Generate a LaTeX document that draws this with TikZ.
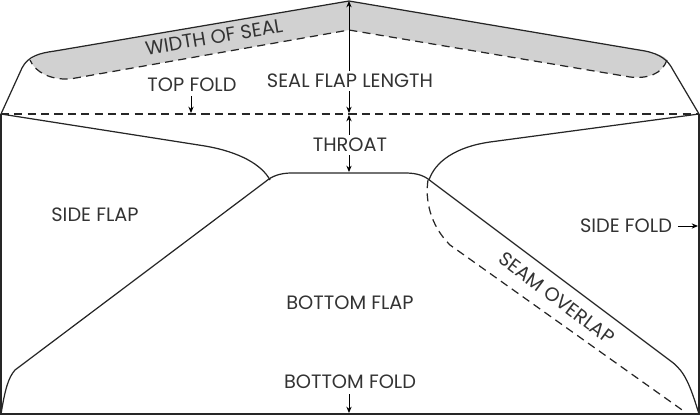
\documentclass[tikz,border=0pt]{standalone}
\usepackage{fontspec}
\setmainfont{Poppins}
\usetikzlibrary{arrows.meta}
\begin{document}
\begin{tikzpicture}[x=0.01cm,y=-0.01cm,
  ln/.style={line width=0.35pt,black!85},
  dsh/.style={line width=0.35pt,black!85,dash pattern=on 2.3pt off 1.5pt},
  lab/.style={font=\fontsize{5.5}{6}\selectfont,text=black!80,inner sep=0pt},
  tip/.tip={Stealth[length=1.8pt,width=1.5pt]},
  arr/.style={-tip,line width=0.25pt}]
\useasboundingbox (0,0) rectangle (700,415);
% seal gray
\fill[black!18] (30,60) .. controls (38,54) and (45,53) .. (55,51) -- (349,1) -- (645,51) .. controls (660,54) and (665,57) .. (667,60)
  .. controls (662,74) and (648,79) .. (630,77) -- (349,30) -- (70,79) .. controls (50,80) and (35,72) .. (30,60) -- cycle;
\draw[dsh] (667,60) .. controls (662,74) and (648,79) .. (630,77) -- (349,30) -- (70,79) .. controls (50,80) and (35,72) .. (30,60);
% top flap outline
\draw[ln] (1,114) -- (22,68) .. controls (28,56) and (40,53) .. (55,51) -- (349,1) -- (645,51) .. controls (660,54) and (668,60) .. (673,70) -- (699,114);
% body
\draw[ln] (1,114) -- (1,414) -- (699,414) -- (699,114);
\draw[dsh] (1,114) -- (699,114);
% throat and flaps
\draw[ln] (1,114) -- (205,146) .. controls (240,152) and (262,165) .. (270,180);
\draw[ln] (699,114) -- (490,142) .. controls (455,147) and (435,162) .. (429,180);
\draw[ln] (15,370) -- (265,182) .. controls (272,176) and (280,173) .. (292,173) -- (405,173) .. controls (418,173) and (425,176) .. (432,182) -- (672,362) .. controls (685,372) and (690,385) .. (699,414);
\draw[ln] (15,370) .. controls (8,378) and (5,390) .. (1,414);
\draw[dsh] (428,180) .. controls (425,200) and (430,225) .. (450,245) -- (685,412);
% dimension arrows
\coordinate (t0) at (349,1); \coordinate (t1) at (349,113); \coordinate (t2) at (349,115); \coordinate (t3) at (349,172);
\draw[arr,tip-tip] (t0) -- (t1);
\draw[arr,tip-tip] (t2) -- (t3);
% labels
\node[lab,rotate=9.5] (ws) at (214,37) {WIDTH OF SEAL};
\node[lab] (tf) at (192,85) {TOP FOLD};
\node[lab,fill=white,inner sep=1pt] (sfl) at (350,81) {SEAL FLAP LENGTH};
\node[lab,fill=white,inner sep=1pt] (th) at (350,145) {THROAT};
\node[lab] (sf) at (95,215) {SIDE FLAP};
\node[lab] (sd) at (626,226) {SIDE FOLD};
\node[lab] (bf) at (350,303) {BOTTOM FLAP};
\node[lab] (bd) at (350,382) {BOTTOM FOLD};
\node[lab,rotate=-37] (so) at (557,298) {SEAM OVERLAP};
\coordinate (tfa) at (191,113); \coordinate (tfs) at (191,96);
\draw[arr] (tfs) -- (tfa);
\coordinate (bda) at (349,413); \coordinate (bds) at (349,394);
\draw[arr] (bds) -- (bda);
\coordinate (sda) at (698,226);
\draw[arr] ([xshift=1.5pt]sd.east) -- (sda);
\end{tikzpicture}
\end{document}
